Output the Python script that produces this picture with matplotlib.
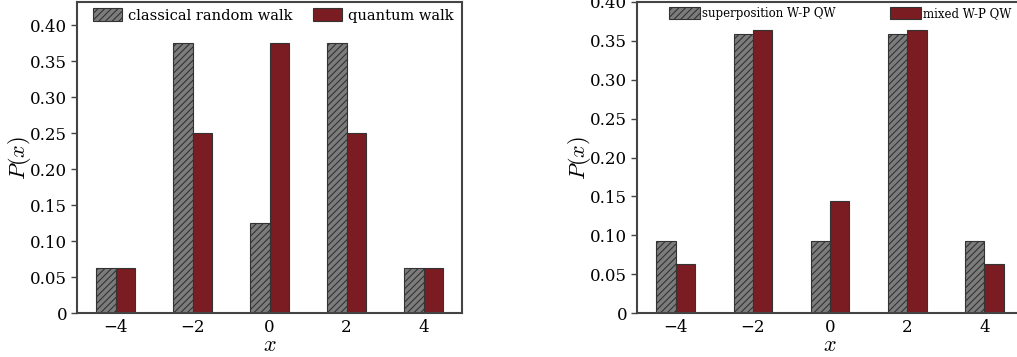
import matplotlib
matplotlib.use("Agg")
import matplotlib.pyplot as plt
import numpy as np

plt.rcParams['font.family'] = ['DejaVu Serif']
plt.rcParams['mathtext.fontset'] = 'cm'
plt.rcParams['hatch.color'] = '#333333'
plt.rcParams['hatch.linewidth'] = 0.8

x = [-4, -2, 0, 2, 4]
classical = [0.0625, 0.375, 0.125, 0.375, 0.0625]
quantum = [0.0625, 0.25, 0.375, 0.25, 0.0625]
superposition = [0.093, 0.359, 0.093, 0.359, 0.093]
mixed = [0.0625, 0.364, 0.144, 0.364, 0.0625]
yticks = [0, 0.05, 0.10, 0.15, 0.20, 0.25, 0.30, 0.35, 0.40]
yticklabels = ['0', '0.05', '0.10', '0.15', '0.20', '0.25', '0.30', '0.35', '0.40']
xticklabels = ['\u22124', '\u22122', '0', '2', '4']

gray = '#7c7c7c'
red = '#7a1c22'
edge = '#333333'

fig = plt.figure(figsize=(10.17, 3.57), dpi=100)
W, H = 1017, 357
ax1 = fig.add_axes([77 / W, 1 - 313 / H, 385 / W, 311 / H])
ax2 = fig.add_axes([637 / W, 1 - 313 / H, 386 / W, 311 / H])

xs = np.array(x, dtype=float)
w = 0.5

def draw(ax, a, b, la, lb, ymax):
    ax.bar(xs - w / 2, a, width=w, color=gray, edgecolor=edge, linewidth=0.8,
           hatch='/////', label=la)
    ax.bar(xs + w / 2, b, width=w, color=red, edgecolor=edge, linewidth=0.8, label=lb)
    ax.set_xlim(-5, 5)
    ax.set_ylim(0, ymax)
    ax.set_xticks(x)
    ax.set_xticklabels(xticklabels, fontsize=12)
    ax.set_yticks(yticks)
    ax.set_yticklabels(yticklabels, fontsize=12)
    ax.tick_params(axis='x', length=0, pad=4)
    ax.tick_params(axis='y', direction='out', length=4, width=1, color='#444444', pad=3)
    for s in ax.spines.values():
        s.set_color('#444444')
        s.set_linewidth(1.5)
    ax.set_xlabel('$x$', fontsize=16, labelpad=-1)
    ax.set_ylabel('$P(x)$', fontsize=16, labelpad=-2)

draw(ax1, classical, quantum, 'classical random walk', 'quantum walk', 0.432)
draw(ax2, superposition, mixed, 'superposition W-P QW', 'mixed W-P QW', 0.40)

ax1.legend(loc='upper left', bbox_to_anchor=(0.042, 0.98), ncol=2, frameon=False,
           fontsize=10.5, handlelength=2.0, handleheight=1.0, columnspacing=1.4,
           borderaxespad=0, borderpad=0, handletextpad=0.4)
ax2.legend(loc='upper left', bbox_to_anchor=(0.083, 0.985), ncol=2, frameon=False,
           fontsize=8.5, handlelength=2.6, handleheight=1.2, columnspacing=4.6,
           borderaxespad=0, borderpad=0, handletextpad=0.2)

fig.savefig('out.png', dpi=100)
